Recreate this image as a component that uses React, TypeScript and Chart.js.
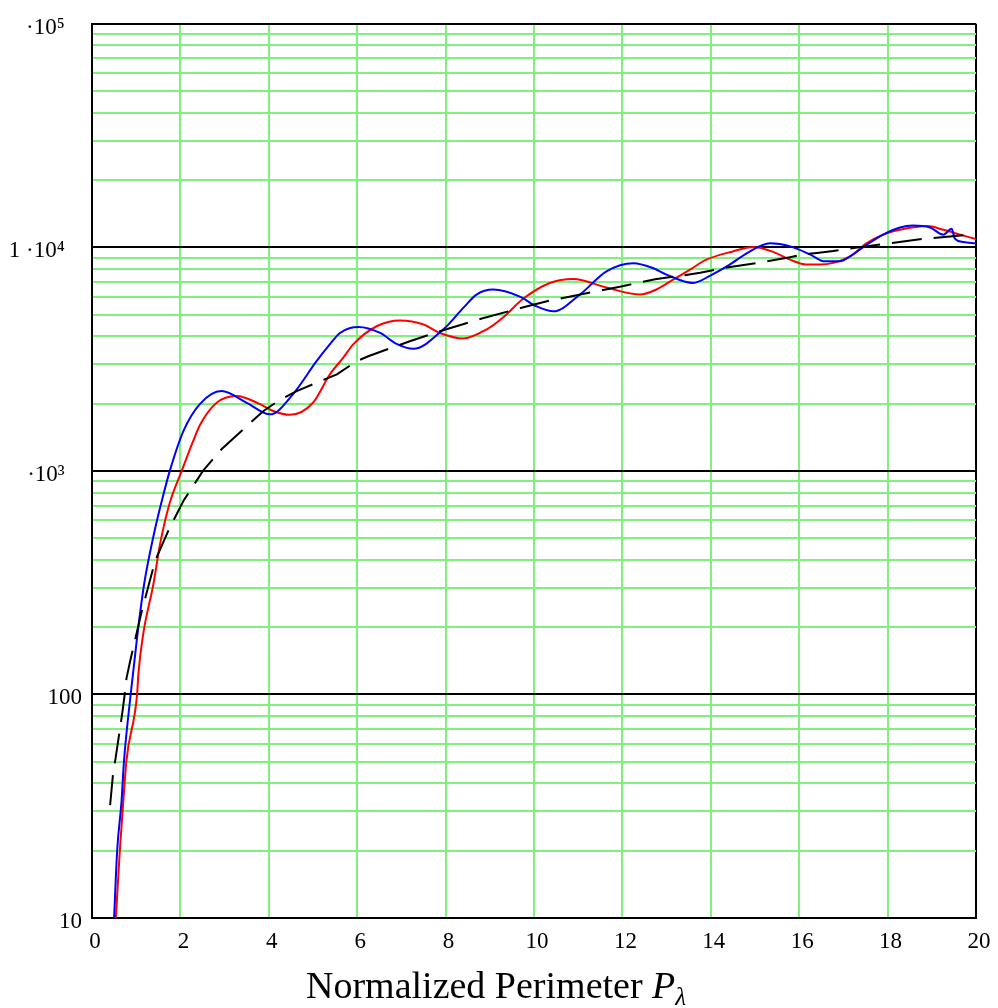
import { useEffect, useRef } from "react";
import { Chart, registerables } from "chart.js";

Chart.register(...registerables);

// ---------- data ----------
const blueX = [0.5, 0.57, 0.67, 0.72, 0.875, 1.03, 1.18, 1.4, 1.58, 1.76, 2.07, 2.44, 2.93, 3.5, 4.03, 4.55, 5.08, 5.38, 5.61, 5.84, 6.03, 6.52, 6.89, 7.27, 7.95, 8.4, 8.7, 9.08, 9.68, 10.06, 10.44, 11.04, 11.64, 12.25, 12.7, 13.0, 13.6, 14.0, 14.4, 14.85, 15.34, 15.8, 16.24, 16.58, 16.92, 17.15, 17.53, 17.9, 18.28, 18.57, 18.96, 19.26, 19.45, 19.52, 19.71, 20];
const blueY = [10, 20.1, 33.6, 49.2, 100, 187, 312, 521, 735, 1000, 1510, 1990, 2275, 2017, 1791, 2207, 3097, 3681, 4140, 4360, 4406, 4140, 3700, 3516, 4300, 5360, 6150, 6470, 6020, 5440, 5174, 6150, 7810, 8490, 8060, 7550, 6930, 7500, 8300, 9500, 10420, 10100, 9310, 8660, 8660, 9110, 10280, 11400, 12270, 12530, 12270, 11400, 12100, 10940, 10570, 10420];

const redX = [0.54, 0.63, 0.71, 0.78, 1.02, 1.05, 1.16, 1.39, 1.54, 1.76, 2.03, 2.29, 2.44, 2.82, 3.27, 3.8, 4.1, 4.48, 5.0, 5.38, 5.68, 5.91, 6.44, 6.97, 7.5, 7.87, 8.4, 8.93, 9.3, 9.76, 10.36, 10.89, 11.64, 12.4, 12.77, 13.15, 13.53, 13.9, 14.5, 14.96, 15.41, 15.79, 16.17, 16.47, 16.77, 17.15, 17.53, 17.9, 18.28, 18.9, 19.26, 19.64, 20];
const redY = [10, 20.1, 33.6, 50.7, 100, 124, 187, 312, 471, 720, 1000, 1361, 1600, 2017, 2162, 1990, 1854, 1782, 2017, 2700, 3200, 3681, 4436, 4710, 4520, 4140, 3910, 4300, 4860, 5900, 6930, 7210, 6610, 6150, 6480, 7170, 7950, 8810, 9590, 10030, 9540, 8810, 8370, 8370, 8520, 9110, 10450, 11400, 11980, 12450, 11980, 11400, 10880];

const blackX = [0.41, 0.48, 0.535, 0.65, 0.69, 0.74, 0.78, 0.86, 1.11, 1.43, 1.76, 2.07, 2.29, 2.51, 2.93, 3.46, 3.88, 4.21, 4.63, 5.54, 5.99, 6.25, 7.19, 7.87, 8.82, 9.76, 10.36, 10.77, 11.4, 12.0, 12.74, 13.4, 13.76, 14.4, 15.07, 15.79, 16.1, 16.4, 16.77, 17.5, 18.1, 18.85, 19.9];
const blackY = [32, 45, 52, 74, 84, 100, 118, 140, 229, 397, 558, 735, 857, 1000, 1250, 1560, 1854, 2054, 2275, 2704, 3097, 3258, 3802, 4217, 4806, 5395, 5780, 6000, 6350, 6700, 7200, 7500, 7700, 8150, 8520, 9030, 9300, 9440, 9620, 10100, 10450, 10940, 11400];

const xTicks = [0, 2, 4, 6, 8, 10, 12, 14, 16, 18, 20];
const yDecades = [10, 100, 1000, 10000, 100000];
const yDecadeLabels = ["10", "100", "\u00B710\u00B3   ", "1 \u00B710\u2074   ", "\u00B710\u2075   "];
const yMantissas = [1, 2, 3, 4, 5, 6, 7, 8, 9];

const titleMain = "Normalized Perimeter ";
const titleVar = "P";
const titleSub = "\u03BB";

// ---------- style ----------
const SERIF = '"Liberation Serif", "Times New Roman", serif';
const GREEN = "rgb(128,240,128)";

const toPoints = (xs: number[], ys: number[]) => xs.map((x, i) => ({ x, y: ys[i] }));

const yGridValues: number[] = [];
yDecades.forEach((d, i) => {
  if (i === yDecades.length - 1) {
    yGridValues.push(d);
  } else {
    yMantissas.forEach((m) => yGridValues.push(m * d));
  }
});

const titlePlugin = {
  id: "xTitleRich",
  afterDraw(chart: any) {
    const ctx = chart.ctx as CanvasRenderingContext2D;
    ctx.save();
    ctx.fillStyle = "#000";
    ctx.textAlign = "left";
    ctx.textBaseline = "alphabetic";
    const x0 = 306;
    const y0 = 998;
    ctx.font = `38px ${SERIF}`;
    ctx.fillText(titleMain, x0, y0);
    const w1 = ctx.measureText(titleMain).width;
    ctx.font = `italic 38px ${SERIF}`;
    ctx.fillText(titleVar, x0 + w1, y0);
    const w2 = ctx.measureText(titleVar).width;
    ctx.font = `italic 25px ${SERIF}`;
    ctx.fillText(titleSub, x0 + w1 + w2, y0 + 7);
    ctx.restore();
  },
};

export default function App() {
  const ref = useRef<HTMLCanvasElement>(null);

  useEffect(() => {
    if (!ref.current) return;
    const chart = new Chart(ref.current, {
      type: "line",
      data: {
        datasets: [
          {
            label: "black",
            data: toPoints(blackX, blackY),
            borderColor: "#000",
            borderWidth: 2,
            borderDash: [30, 12],
            pointRadius: 0,
            tension: 0,
            fill: false,
          },
          {
            label: "blue",
            data: toPoints(blueX, blueY),
            borderColor: "#0000ff",
            borderWidth: 2,
            pointRadius: 0,
            cubicInterpolationMode: "monotone",
            fill: false,
          },
          {
            label: "red",
            data: toPoints(redX, redY),
            borderColor: "#ff0000",
            borderWidth: 2,
            pointRadius: 0,
            cubicInterpolationMode: "monotone",
            fill: false,
          },
        ],
      },
      options: {
        animation: false,
        responsive: false,
        maintainAspectRatio: false,
        parsing: false as any,
        layout: { padding: { left: 0, top: 22, right: 22, bottom: 0 } },
        plugins: {
          legend: { display: false },
          tooltip: { enabled: false },
          title: { display: false },
        },
        scales: {
          x: {
            type: "linear",
            min: 0,
            max: 20,
            afterBuildTicks: (scale: any) => {
              scale.ticks = xTicks.map((v) => ({ value: v }));
            },
            afterFit: (scale: any) => {
              scale.height = 90;
            },
            ticks: {
              autoSkip: false,
              maxRotation: 0,
              padding: 10,
              labelOffset: 3,
              color: "#000",
              font: { family: SERIF, size: 23 },
              callback: (v: any) => String(v),
            },
            grid: {
              drawTicks: false,
              lineWidth: 2,
              color: (ctx: any) => (ctx.tick && ctx.tick.value === 20 ? "#000" : GREEN),
            },
            border: { display: true, color: "#000", width: 2 },
          },
          y: {
            type: "logarithmic",
            min: 10,
            max: 100000,
            afterBuildTicks: (scale: any) => {
              scale.ticks = yGridValues.map((v) => ({ value: v }));
            },
            afterFit: (scale: any) => {
              scale.width = 92;
            },
            ticks: {
              autoSkip: false,
              padding: 10,
              labelOffset: 4,
              color: "#000",
              font: { family: SERIF, size: 23 },
              callback: (v: any) => {
                const i = yDecades.indexOf(Number(v));
                return i >= 0 ? yDecadeLabels[i] : "";
              },
            },
            grid: {
              drawTicks: false,
              lineWidth: 2,
              color: (ctx: any) =>
                ctx.tick && yDecades.indexOf(ctx.tick.value) >= 0 ? "#000" : GREEN,
            },
            border: { display: true, color: "#000", width: 2 },
          },
        },
      },
      plugins: [titlePlugin],
    } as any);
    return () => chart.destroy();
  }, []);

  return (
    <div style={{ position: "fixed", left: 0, top: 0, width: 998, height: 1008, background: "#fff" }}>
      <canvas ref={ref} width={998} height={1008} style={{ display: "block", width: 998, height: 1008 }} />
    </div>
  );
}
